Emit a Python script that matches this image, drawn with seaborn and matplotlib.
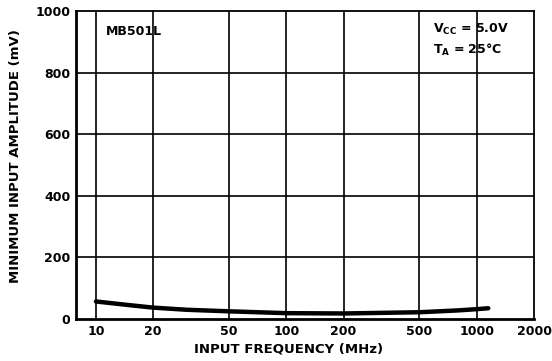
import matplotlib
matplotlib.use("Agg")
import matplotlib.pyplot as plt
import seaborn as sns
import pandas as pd
from matplotlib.ticker import FixedLocator, NullLocator, FixedFormatter

freq_mhz = [10, 15, 20, 30, 50, 100, 200, 500, 800, 1000, 1150]
min_amp_mv = [57, 45, 37, 30, 25, 19, 18, 22, 28, 32, 35]
x_ticks = [10, 20, 50, 100, 200, 500, 1000, 2000]
y_ticks = [0, 200, 400, 600, 800, 1000]

sns.set_theme(style="white")
plt.rcParams['font.family'] = ['DejaVu Sans']
plt.rcParams['text.color'] = 'black'

df = pd.DataFrame({"freq": freq_mhz, "amp": min_amp_mv})

fig = plt.figure(figsize=(5.52, 3.61), dpi=100)
ax = fig.add_axes([0.1377, 0.1163, 0.8297, 0.8532])
sns.lineplot(data=df, x="freq", y="amp", ax=ax, color="black", linewidth=3.2)
ax.set_xscale("log")
ax.set_xlim(7.86, 2000)
ax.set_ylim(0, 1000)

ax.xaxis.set_major_locator(FixedLocator(x_ticks))
ax.xaxis.set_major_formatter(FixedFormatter([str(t) for t in x_ticks]))
ax.xaxis.set_minor_locator(NullLocator())
ax.yaxis.set_major_locator(FixedLocator(y_ticks))

for t in x_ticks[:-1]:
    ax.axvline(t, color="black", linewidth=1.2, zorder=1)
for t in y_ticks[1:-1]:
    ax.axhline(t, color="black", linewidth=1.2, zorder=1)

for s in ax.spines.values():
    s.set_visible(True)
    s.set_color("black")
    s.set_linewidth(1.3)
ax.spines["left"].set_linewidth(2)
ax.spines["bottom"].set_linewidth(2)

ax.tick_params(axis="both", which="both", length=0, labelsize=9, colors="black", pad=4)
for lab in ax.get_xticklabels() + ax.get_yticklabels():
    lab.set_fontweight("bold")

ax.set_xlabel("INPUT FREQUENCY (MHz)", fontsize=9.5, fontweight="bold", color="black")
ax.set_ylabel("MINIMUM INPUT AMPLITUDE (mV)", fontsize=9.5, fontweight="bold", color="black")
ax.xaxis.set_label_coords(0.465, -0.075)
ax.yaxis.set_label_coords(-0.118, 0.53)

ax.text(0.065, 0.935, "MB501L", transform=ax.transAxes, fontsize=9, fontweight="bold",
        ha="left", va="center", color="black")
ax.text(0.78, 0.94, r"V$_{\mathregular{CC}}$ = 5.0V", transform=ax.transAxes, fontsize=9,
        fontweight="bold", ha="left", va="center", color="black")
ax.text(0.78, 0.875, r"T$_{\mathregular{A}}$ = 25°C", transform=ax.transAxes, fontsize=9,
        fontweight="bold", ha="left", va="center", color="black")

fig.savefig("out.png", dpi=100)
